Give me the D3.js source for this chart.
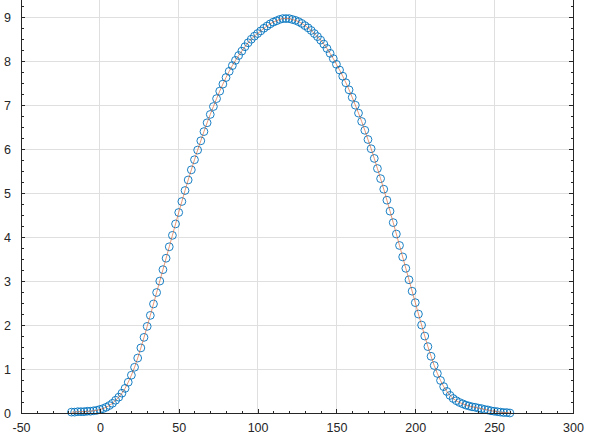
<!DOCTYPE html>
<html>
<head>
<meta charset="utf-8">
<script src="https://cdn.jsdelivr.net/npm/d3@7"></script>
<style>
  html, body { margin: 0; padding: 0; background: #fff; }
  svg { display: block; }
  text { font-family: "Liberation Sans", Arial, sans-serif; }
</style>
</head>
<body>
<svg id="chart" width="609" height="437"></svg>
<script>
// ---- data ----
const xValues = [
  -18, -16, -14, -12, -10, -8, -6, -4, -2, 0,
  2, 4, 6, 8, 10, 12, 14, 16, 18, 20,
  22, 24, 26, 28, 30, 32, 34, 36, 38, 40,
  42, 44, 46, 48, 50, 52, 54, 56, 58, 60,
  62, 64, 66, 68, 70, 72, 74, 76, 78, 80,
  82, 84, 86, 88, 90, 92, 94, 96, 98, 100,
  102, 104, 106, 108, 110, 112, 114, 116, 118, 120,
  122, 124, 126, 128, 130, 132, 134, 136, 138, 140,
  142, 144, 146, 148, 150, 152, 154, 156, 158, 160,
  162, 164, 166, 168, 170, 172, 174, 176, 178, 180,
  182, 184, 186, 188, 190, 192, 194, 196, 198, 200,
  202, 204, 206, 208, 210, 212, 214, 216, 218, 220,
  222, 224, 226, 228, 230, 232, 234, 236, 238, 240,
  242, 244, 246, 248, 250, 252, 254, 256, 258, 260
];
const yValues = [
  0.02, 0.02, 0.03, 0.03, 0.03, 0.04, 0.04, 0.05, 0.06, 0.08,
  0.10, 0.13, 0.17, 0.22, 0.29, 0.36, 0.45, 0.56, 0.70, 0.86,
  1.04, 1.25, 1.48, 1.72, 1.97, 2.22, 2.48, 2.74, 3.00, 3.26,
  3.52, 3.78, 4.04, 4.30, 4.56, 4.81, 5.06, 5.30, 5.53, 5.76,
  5.98, 6.19, 6.40, 6.60, 6.79, 6.97, 7.15, 7.32, 7.48, 7.63,
  7.77, 7.90, 8.02, 8.13, 8.23, 8.33, 8.42, 8.50, 8.57, 8.63,
  8.69, 8.75, 8.80, 8.85, 8.89, 8.92, 8.95, 8.97, 8.97, 8.97,
  8.95, 8.93, 8.90, 8.86, 8.81, 8.76, 8.70, 8.63, 8.56, 8.48,
  8.39, 8.29, 8.18, 8.06, 7.93, 7.80, 7.66, 7.51, 7.35, 7.18,
  7.00, 6.82, 6.63, 6.43, 6.22, 6.01, 5.79, 5.56, 5.33, 5.09,
  4.84, 4.59, 4.33, 4.07, 3.81, 3.55, 3.29, 3.03, 2.77, 2.51,
  2.25, 2.00, 1.75, 1.51, 1.29, 1.08, 0.90, 0.74, 0.60, 0.49,
  0.40, 0.33, 0.28, 0.24, 0.21, 0.18, 0.16, 0.14, 0.13, 0.11,
  0.10, 0.08, 0.07, 0.05, 0.04, 0.03, 0.02, 0.01, 0.01, 0.00
];
const xTicks = [-50, 0, 50, 100, 150, 200, 250, 300];
const xTickLabels = ["-50", "0", "50", "100", "150", "200", "250", "300"];
const yTicks = [0, 1, 2, 3, 4, 5, 6, 7, 8, 9];
const yTickLabels = ["0", "1", "2", "3", "4", "5", "6", "7", "8", "9"];
const xDomain = [-50, 300];
const yDomain = [0, 9.5];

// ---- layout ----
const svg = d3.select("#chart");
const left = 21, right = 573, bottom = 413;
const x = d3.scaleLinear().domain(xDomain).range([left, right]);
const y = d3.scaleLinear().domain(yDomain).range([bottom, bottom - 9.5 * 43.97]);

const axisColor = "#262626";
const gridColor = "#dfdfdf";

// grid
const g = svg.append("g").attr("shape-rendering", "crispEdges");
g.selectAll(".vg").data(xTicks.filter(t => t > xDomain[0] && t < xDomain[1]))
  .join("line")
  .attr("x1", d => x(d)).attr("x2", d => x(d))
  .attr("y1", y(yDomain[0])).attr("y2", y(yDomain[1]))
  .attr("stroke", gridColor).attr("stroke-width", 1);
g.selectAll(".hg").data(yTicks.filter(t => t > yDomain[0]))
  .join("line")
  .attr("x1", left).attr("x2", right)
  .attr("y1", d => y(d)).attr("y2", d => y(d))
  .attr("stroke", gridColor).attr("stroke-width", 1);

// data: circles then thin line
const pts = xValues.map((v, i) => [v, yValues[i]]);
svg.append("g").selectAll("circle").data(pts).join("circle")
  .attr("cx", d => x(d[0])).attr("cy", d => y(d[1]))
  .attr("r", 3.9)
  .attr("fill", "none")
  .attr("stroke", "#0072BD")
  .attr("stroke-width", 0.9);
svg.append("path").datum(pts)
  .attr("d", d3.line().x(d => x(d[0])).y(d => y(d[1])))
  .attr("fill", "none")
  .attr("stroke", "#D95319")
  .attr("stroke-width", 0.6);

// axes (MATLAB style: inward ticks, box)
const xAxisB = d3.axisBottom(x).tickValues(xTicks).tickSize(-4).tickPadding(10)
  .tickFormat((d, i) => xTickLabels[i]);
const xMinor = d3.axisBottom(x).tickValues(d3.range(-50, 301, 10).filter(v => !xTicks.includes(v))).tickSize(-2.5).tickFormat("");
const yAxisL = d3.axisLeft(y).tickValues(yTicks).tickSize(-4).tickPadding(10)
  .tickFormat((d, i) => yTickLabels[i]);
const yMinor = d3.range(0, 9.51, 0.25).filter(v => Math.abs(v - Math.round(v)) > 1e-6);
const yMinorL = d3.axisLeft(y).tickValues(yMinor).tickSize(-2.5).tickFormat("");
const yAxisR = d3.axisRight(y).tickValues(yTicks).tickSize(-4).tickFormat("");
const yMinorR = d3.axisRight(y).tickValues(yMinor).tickSize(-2.5).tickFormat("");

function style(sel) {
  sel.selectAll("path, line").attr("stroke", axisColor).attr("shape-rendering", "crispEdges");
  sel.selectAll("text").attr("fill", axisColor).attr("font-size", 12.5)
    .attr("font-family", "'Liberation Sans', Arial, sans-serif");
}
svg.append("g").attr("transform", `translate(0,${bottom})`).call(xAxisB).call(style);
svg.append("g").attr("transform", `translate(0,${bottom})`).call(xMinor).call(style).select(".domain").remove();
svg.append("g").attr("transform", `translate(${left},0)`).call(yAxisL).call(style);
svg.append("g").attr("transform", `translate(${left},0)`).call(yMinorL).call(style).select(".domain").remove();
svg.append("g").attr("transform", `translate(${right},0)`).call(yAxisR).call(style);
svg.append("g").attr("transform", `translate(${right},0)`).call(yMinorR).call(style).select(".domain").remove();
</script>
</body>
</html>
